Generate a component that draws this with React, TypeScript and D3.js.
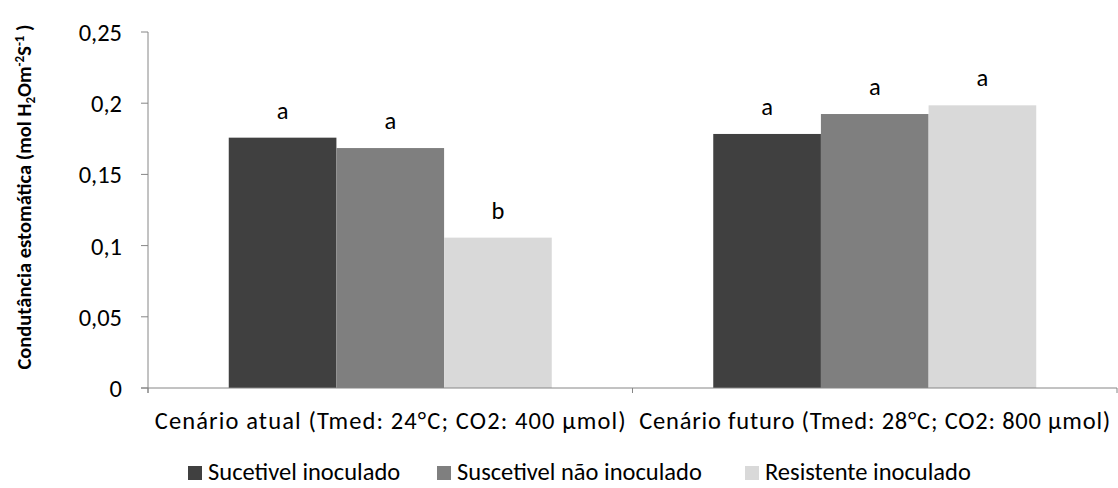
import React from "react";
import * as d3 from "d3";

const categories = [
  "Cenário atual (Tmed: 24°C; CO2: 400 µmol)",
  "Cenário futuro (Tmed: 28°C; CO2: 800 µmol)",
];
const seriesNames = ["Sucetivel inoculado", "Suscetivel não inoculado", "Resistente inoculado"];
const seriesColors = ["#404040", "#7f7f7f", "#d9d9d9"];
const sucetivelInoculado = [0.1758, 0.1784];
const suscetivelNaoInoculado = [0.1685, 0.1924];
const resistenteInoculado = [0.1056, 0.1985];
const letters = [
  ["a", "a"],
  ["a", "a"],
  ["b", "a"],
];
const yTicks = [0, 0.05, 0.1, 0.15, 0.2, 0.25];
const yTickLabels = ["0", "0,05", "0,1", "0,15", "0,2", "0,25"];

const W = 1118;
const H = 488;
const FONT = "Carlito, Calibri, Lato, sans-serif";
const FS = 24.5;

export default function App() {
  const values = [sucetivelInoculado, suscetivelNaoInoculado, resistenteInoculado];
  const y = d3.scaleLinear().domain([0, 0.25]).range([388, 32]);
  const x0 = d3.scaleBand<string>().domain(categories).range([148, 1117]).paddingInner(0).paddingOuter(0);
  const bw = x0.bandwidth();
  const x1 = d3
    .scaleBand<string>()
    .domain(seriesNames)
    .range([bw / 6, (bw * 5) / 6])
    .padding(0);
  const axisColor = "#868686";
  const legendX = [188, 437, 745];

  return (
    <svg
      width={W}
      height={H}
      style={{ position: "absolute", left: 0, top: 0, background: "#fff" }}
      fontFamily={FONT}
    >
      {/* bars */}
      {values.map((vals, si) =>
        vals.map((v, ci) => (
          <rect
            key={`b${si}-${ci}`}
            x={(x0(categories[ci]) as number) + (x1(seriesNames[si]) as number)}
            y={y(v)}
            width={x1.bandwidth()}
            height={y(0) - y(v)}
            fill={seriesColors[si]}
          />
        ))
      )}
      {/* letters */}
      {values.map((vals, si) =>
        vals.map((v, ci) => (
          <text
            key={`l${si}-${ci}`}
            x={(x0(categories[ci]) as number) + (x1(seriesNames[si]) as number) + x1.bandwidth() / 2}
            y={y(v) - 19}
            textAnchor="middle"
            fontSize={FS}
            fill="#000"
          >
            {letters[si][ci]}
          </text>
        ))
      )}
      {/* y axis */}
      <line x1={148} x2={148} y1={y(0.25)} y2={y(0) + 5} stroke={axisColor} strokeWidth={1} />
      {yTicks.map((t, i) => (
        <g key={`yt${i}`}>
          <line x1={141} x2={148} y1={y(t)} y2={y(t)} stroke={axisColor} />
          <text x={122} y={y(t) + 9} textAnchor="end" fontSize={FS} fill="#000">
            {yTickLabels[i]}
          </text>
        </g>
      ))}
      {/* x axis */}
      <line x1={141} x2={1117} y1={y(0)} y2={y(0)} stroke={axisColor} />
      {[...categories.map((c) => x0(c) as number), 1117].map((px, i) => (
        <line key={`xt${i}`} x1={px} x2={px} y1={y(0)} y2={y(0) + 5} stroke={axisColor} />
      ))}
      {categories.map((c) => (
        <text
          key={c}
          x={(x0(c) as number) + bw / 2}
          y={429}
          textAnchor="middle"
          fontSize={FS}
          textLength={471}
          lengthAdjust="spacing"
          fill="#000"
        >
          {c}
        </text>
      ))}
      {/* y label */}
      <text
        transform={`translate(31,197) rotate(-90)`}
        textAnchor="middle"
        fontSize={20.5}
        fontWeight="bold"
        fill="#000"
      >
        Condutância estomática (mol H
        <tspan fontSize={13} dy={4}>2</tspan>
        <tspan dy={-4}>Om</tspan>
        <tspan fontSize={13} dy={-7}>-2</tspan>
        <tspan dy={7}>S</tspan>
        <tspan fontSize={13} dy={-7}>-1</tspan>
        <tspan dy={7}> )</tspan>
      </text>
      {/* legend */}
      {seriesNames.map((s, i) => (
        <g key={`lg${i}`}>
          <rect x={legendX[i]} y={466} width={14} height={14} fill={seriesColors[i]} />
          <text x={legendX[i] + 20} y={480} fontSize={FS} fill="#000">
            {s}
          </text>
        </g>
      ))}
    </svg>
  );
}
